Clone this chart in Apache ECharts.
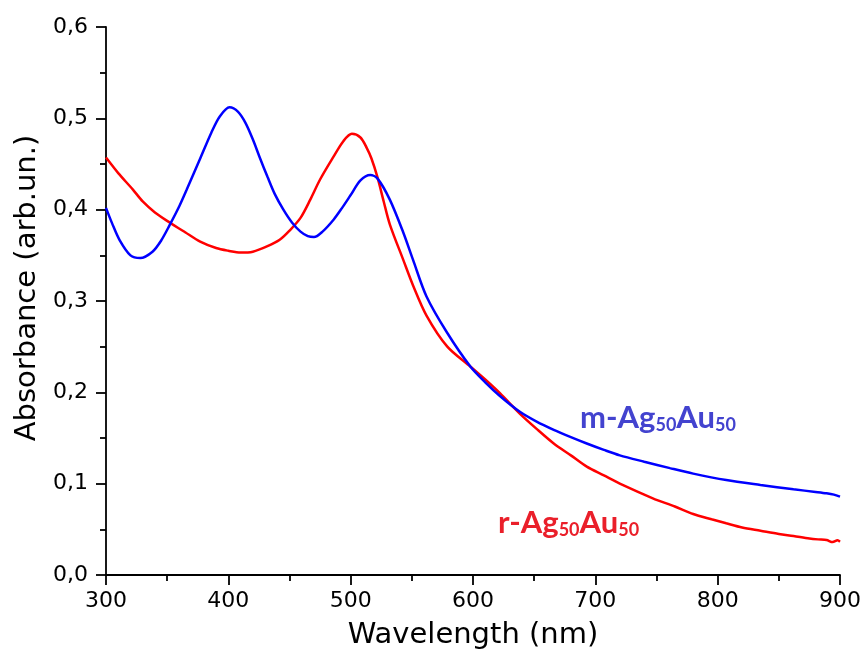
<!DOCTYPE html>
<html>
<head>
<meta charset="utf-8">
<title>Absorbance spectra</title>
<script src="https://cdn.jsdelivr.net/npm/echarts@6/dist/echarts.min.js"></script>
<style>
  html, body { margin: 0; padding: 0; background: #ffffff; }
  #chart { width: 865px; height: 660px; }
</style>
</head>
<body>
<div id="chart"></div>
<script>
// m-Ag50Au50 spectrum: wavelength (nm) and absorbance
const mWave = [300, 305, 311, 320, 328, 338, 345, 352, 360, 366, 377, 386, 393, 401, 408, 414, 420, 426, 432, 438, 445, 452, 459, 465, 470, 477, 486, 493, 500, 508, 516, 522, 532, 543, 551, 562, 579, 598, 610, 622, 638, 652, 666, 680, 693, 707, 720, 740, 761, 780, 807, 835, 862, 880, 889, 895, 900];
const mAbs  = [0.402, 0.385, 0.367, 0.350, 0.347, 0.354, 0.366, 0.383, 0.404, 0.422, 0.456, 0.484, 0.502, 0.512, 0.507, 0.495, 0.477, 0.456, 0.436, 0.417, 0.400, 0.386, 0.376, 0.371, 0.370, 0.376, 0.389, 0.402, 0.416, 0.432, 0.438, 0.434, 0.411, 0.375, 0.345, 0.305, 0.265, 0.228, 0.211, 0.196, 0.179, 0.168, 0.159, 0.151, 0.144, 0.137, 0.131, 0.124, 0.117, 0.111, 0.104, 0.0986, 0.0938, 0.091, 0.0895, 0.088, 0.0858];

// r-Ag50Au50 spectrum: wavelength (nm) and absorbance
const rWave = [300, 310, 322, 330, 340, 352, 365, 377, 390, 400, 410, 420, 432, 442, 450, 459, 467, 475, 486, 494, 501, 508, 513, 517, 522, 527, 532, 543, 551, 562, 579, 598, 610, 622, 638, 652, 666, 680, 693, 707, 720, 747, 765, 780, 795, 807, 820, 835, 850, 862, 875, 882, 889, 894, 898, 900];
const rAbs  = [0.457, 0.440, 0.422, 0.409, 0.397, 0.386, 0.375, 0.365, 0.358, 0.355, 0.353, 0.354, 0.360, 0.367, 0.377, 0.391, 0.411, 0.433, 0.458, 0.475, 0.483, 0.479, 0.468, 0.456, 0.435, 0.409, 0.384, 0.345, 0.317, 0.284, 0.250, 0.228, 0.214, 0.199, 0.177, 0.160, 0.144, 0.131, 0.1186, 0.109, 0.100, 0.084, 0.075, 0.0668, 0.061, 0.0566, 0.052, 0.0485, 0.045, 0.0427, 0.040, 0.039, 0.0383, 0.036, 0.038, 0.0365];

// axis ranges and ticks
const xTicks = [300, 400, 500, 600, 700, 800, 900];
const yTicks = [0.0, 0.1, 0.2, 0.3, 0.4, 0.5, 0.6];

// series label anchors: [wavelength, absorbance]
const mLabelAt = [687.5, 0.172];
const rLabelAt = [620.4, 0.057];

const pairs = (xs, ys) => xs.map((x, i) => [x, ys[i]]);

const axisFont = 'DejaVu Sans, Verdana, sans-serif';
const tagFont = 'Lato, Carlito, Calibri, sans-serif';

function tagLabel(color) {
  return {
    show: true,
    position: 'inside',
    align: 'left',
    verticalAlign: 'middle',
    rich: {
      a: { fontFamily: tagFont, fontWeight: 'bold', fontSize: 31, color: color, lineHeight: 32, verticalAlign: 'bottom' },
      s: { fontFamily: tagFont, fontWeight: 'bold', fontSize: 18, color: color, lineHeight: 18, verticalAlign: 'bottom' }
    }
  };
}

const chart = echarts.init(document.getElementById('chart'), null, { renderer: 'canvas' });

chart.setOption({
  animation: false,
  backgroundColor: '#ffffff',
  grid: { left: 106, right: 25, top: 27, bottom: 85, containLabel: false },
  xAxis: {
    type: 'value',
    min: xTicks[0],
    max: xTicks[xTicks.length - 1],
    interval: 100,
    name: 'Wavelength (nm)',
    nameLocation: 'middle',
    nameGap: 46,
    nameTextStyle: { fontFamily: axisFont, fontSize: 29, color: '#000' },
    axisLine: { show: true, onZero: false, lineStyle: { color: '#000', width: 1.8 } },
    axisTick: { show: true, inside: false, length: 10, lineStyle: { color: '#000', width: 1.8 } },
    minorTick: { show: true, splitNumber: 2, length: 6, lineStyle: { color: '#000', width: 1.8 } },
    axisLabel: { fontFamily: axisFont, fontSize: 22, color: '#000', margin: 15 },
    splitLine: { show: false }
  },
  yAxis: {
    type: 'value',
    min: yTicks[0],
    max: yTicks[yTicks.length - 1],
    interval: 0.1,
    name: 'Absorbance (arb.un.)',
    nameLocation: 'middle',
    nameGap: 58,
    nameTextStyle: { fontFamily: axisFont, fontSize: 29, color: '#000', padding: [0, 0, 0, 26] },
    axisLine: { show: true, onZero: false, lineStyle: { color: '#000', width: 1.8 } },
    axisTick: { show: true, inside: false, length: 10, lineStyle: { color: '#000', width: 1.8 } },
    minorTick: { show: true, splitNumber: 2, length: 6, lineStyle: { color: '#000', width: 1.8 } },
    axisLabel: {
      fontFamily: axisFont, fontSize: 22, color: '#000', margin: 18,
      formatter: v => v.toFixed(1).replace('.', ',')
    },
    splitLine: { show: false }
  },
  series: [
    {
      name: 'm-Ag50Au50',
      type: 'line',
      data: pairs(mWave, mAbs),
      showSymbol: false,
      smooth: 0.3,
      lineStyle: { color: '#0000ff', width: 2.5 },
      itemStyle: { color: '#0000ff' },
      z: 3,
      markPoint: {
        symbol: 'rect',
        symbolSize: 0,
        silent: true,
        data: [{ coord: mLabelAt, value: 0 }],
        label: Object.assign(tagLabel('#4343cf'), {
          formatter: '{a|m-Ag}{s|50}{a|Au}{s|50}'
        })
      }
    },
    {
      name: 'r-Ag50Au50',
      type: 'line',
      data: pairs(rWave, rAbs),
      showSymbol: false,
      smooth: 0.3,
      lineStyle: { color: '#ff0000', width: 2.5 },
      itemStyle: { color: '#ff0000' },
      z: 2,
      markPoint: {
        symbol: 'rect',
        symbolSize: 0,
        silent: true,
        data: [{ coord: rLabelAt, value: 0 }],
        label: Object.assign(tagLabel('#ea1f2a'), {
          formatter: '{a|r-Ag}{s|50}{a|Au}{s|50}'
        })
      }
    }
  ]
});
</script>
</body>
</html>
